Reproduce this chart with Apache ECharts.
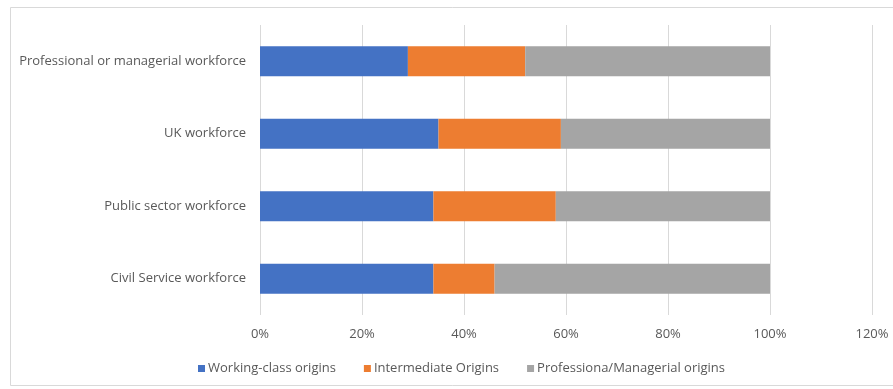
<!DOCTYPE html>
<html>
<head>
<meta charset="utf-8">
<script src="https://cdn.jsdelivr.net/npm/echarts@6/dist/echarts.min.js"></script>
<style>
  html, body { margin: 0; padding: 0; background: #ffffff; }
  #chart { width: 893px; height: 389px; }
</style>
</head>
<body>
<div id="chart"></div>
<script>
// Workforce groups, listed top to bottom
const categories = [
  'Professional or managerial workforce',
  'UK workforce',
  'Public sector workforce',
  'Civil Service workforce'
];
// Share of each group by class origin (%)
const workingClass = [29, 35, 34, 34];
const intermediate = [23, 24, 24, 12];
const professional = [48, 41, 42, 54];

const seriesNames = ['Working-class origins', 'Intermediate Origins', 'Professiona/Managerial origins'];
const seriesColors = ['#4472C4', '#ED7D31', '#A5A5A5'];
const seriesData = [workingClass, intermediate, professional];

const chart = echarts.init(document.getElementById('chart'), null, { renderer: 'canvas' });
const textColor = '#595959';
const font = '"Open Sans", "Liberation Sans", Arial, sans-serif';

chart.setOption({
  animation: false,
  backgroundColor: '#ffffff',
  graphic: [{
    type: 'rect',
    shape: { x: 10.5, y: 7.5, width: 900, height: 378 },
    style: { fill: 'none', stroke: '#d9d9d9', lineWidth: 1 },
    silent: true,
    z: -1
  }],
  grid: { left: 260, right: 21, top: 25, bottom: 74, containLabel: false },
  xAxis: {
    type: 'value',
    min: 0,
    max: 120,
    interval: 20,
    axisLine: { show: false },
    axisTick: { show: false },
    splitLine: { show: true, lineStyle: { color: '#d9d9d9', width: 1 } },
    axisLabel: {
      formatter: '{value}%',
      color: textColor,
      fontFamily: font,
      fontSize: 13,
      margin: 13
    }
  },
  yAxis: {
    type: 'category',
    data: categories,
    inverse: true,
    axisLine: { show: false },
    axisTick: { show: false },
    axisLabel: {
      color: textColor,
      fontFamily: font,
      fontSize: 13,
      margin: 14
    }
  },
  legend: {
    top: 357,
    left: 193,
    icon: 'rect',
    itemWidth: 7,
    itemHeight: 7,
    itemGap: 28,
    textStyle: { color: textColor, fontFamily: font, fontSize: 13, padding: [0, 0, 0, -2] },
    data: seriesNames
  },
  series: seriesNames.map((name, i) => ({
    name: name,
    type: 'bar',
    stack: 'total',
    barWidth: 30,
    itemStyle: { color: seriesColors[i] },
    data: seriesData[i]
  }))
});
</script>
</body>
</html>
